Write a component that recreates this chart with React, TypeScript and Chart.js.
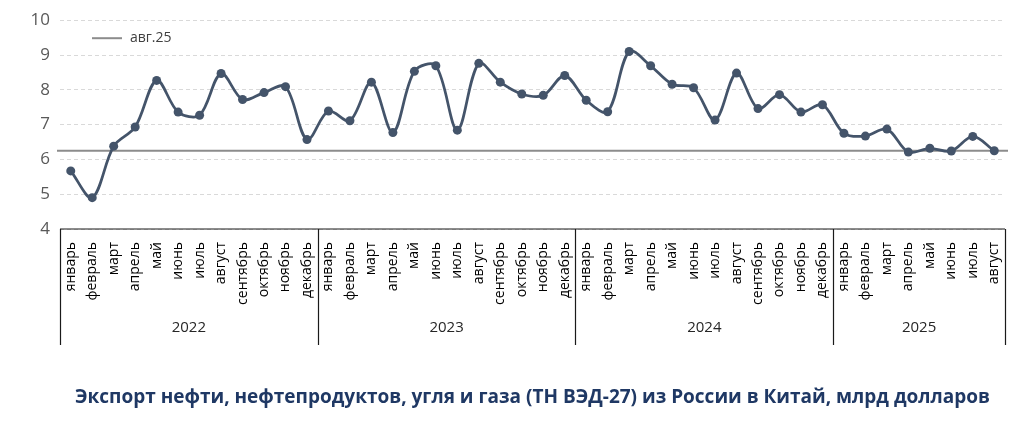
import React, { useEffect, useRef } from 'react';
import { Chart, registerables } from 'chart.js';

Chart.register(...registerables);

const monthNames = ['январь', 'февраль', 'март', 'апрель', 'май', 'июнь', 'июль', 'август', 'сентябрь', 'октябрь', 'ноябрь', 'декабрь'];
const years = ['2022', '2023', '2024', '2025'];
const monthsPerYear = [12, 12, 12, 8];

const exportValues = [
  5.67, 4.9, 6.38, 6.93, 8.27, 7.36, 7.27, 8.47, 7.72, 7.92, 8.09, 6.57,
  7.39, 7.11, 8.22, 6.77, 8.53, 8.69, 6.84, 8.76, 8.22, 7.88, 7.84, 8.41,
  7.7, 7.37, 9.1, 8.69, 8.16, 8.06, 7.13, 8.48, 7.46, 7.86, 7.36, 7.57,
  6.75, 6.67, 6.87, 6.21, 6.32, 6.24, 6.66, 6.25,
];

const referenceLevel = 6.25;
const referenceLabel = 'авг.25';
const yMin = 4;
const yMax = 10;
const yStep = 1;
const titleText = 'Экспорт нефти, нефтепродуктов, угля и газа (ТН ВЭД-27) из России в Китай, млрд долларов';

const FONT = '"Open Sans", "DejaVu Sans", sans-serif';
const LINE_COLOR = '#44546A';
const REF_COLOR = '#8C8C8C';
const AXIS_BOX_HEIGHT = 116;

const decorPlugin = {
  id: 'decor',
  beforeDatasetsDraw(chart: any) {
    const { ctx, chartArea, scales } = chart;
    const y = scales.y.getPixelForValue(referenceLevel);
    ctx.save();
    ctx.strokeStyle = REF_COLOR;
    ctx.lineWidth = 2;
    ctx.beginPath();
    ctx.moveTo(chartArea.left - 3, y);
    ctx.lineTo(chartArea.right + 3, y);
    ctx.stroke();
    // legend
    ctx.beginPath();
    ctx.moveTo(chartArea.left + 32, chartArea.top + 18);
    ctx.lineTo(chartArea.left + 62, chartArea.top + 18);
    ctx.stroke();
    ctx.fillStyle = '#404040';
    ctx.font = `14px ${FONT}`;
    ctx.textAlign = 'left';
    ctx.textBaseline = 'middle';
    ctx.fillText(referenceLabel, chartArea.left + 70, chartArea.top + 18);
    ctx.restore();
  },
  afterDraw(chart: any) {
    const { ctx, chartArea, scales } = chart;
    const xs = scales.x;
    const top = chartArea.bottom;
    const bottom = top + AXIS_BOX_HEIGHT;
    ctx.save();
    ctx.strokeStyle = '#1a1a1a';
    ctx.lineWidth = 1.2;
    ctx.beginPath();
    ctx.moveTo(chartArea.left, top);
    ctx.lineTo(chartArea.right, top);
    ctx.stroke();
    let start = 0;
    const bounds: number[] = [chartArea.left];
    years.forEach((yr, i) => {
      const end = start + monthsPerYear[i] - 1;
      const x0 = i === 0 ? chartArea.left : (xs.getPixelForValue(start - 1) + xs.getPixelForValue(start)) / 2;
      const x1 = i === years.length - 1 ? chartArea.right : (xs.getPixelForValue(end) + xs.getPixelForValue(end + 1)) / 2;
      bounds.push(x1);
      ctx.fillStyle = '#262626';
      ctx.font = `15px ${FONT}`;
      ctx.textAlign = 'center';
      ctx.textBaseline = 'middle';
      ctx.fillText(yr, (x0 + x1) / 2, top + 99);
      start = end + 1;
    });
    bounds.forEach((bx) => {
      ctx.beginPath();
      ctx.moveTo(Math.round(bx) + 0.5, top);
      ctx.lineTo(Math.round(bx) + 0.5, bottom);
      ctx.stroke();
    });
    // title
    ctx.fillStyle = '#1F3864';
    ctx.font = `bold 19px ${FONT}`;
    ctx.textAlign = 'center';
    ctx.textBaseline = 'middle';
    ctx.fillText(titleText, (chartArea.left + chartArea.right) / 2, bottom + 53);
    ctx.restore();
  },
};

export default function App() {
  const ref = useRef<HTMLCanvasElement>(null);
  useEffect(() => {
    const labels: string[] = [];
    monthsPerYear.forEach((n) => {
      for (let m = 0; m < n; m++) labels.push(monthNames[m]);
    });
    const chart = new Chart(ref.current!, {
      type: 'line',
      data: {
        labels,
        datasets: [
          {
            data: exportValues,
            borderColor: LINE_COLOR,
            backgroundColor: LINE_COLOR,
            borderWidth: 2.75,
            pointRadius: 4.5,
            pointBackgroundColor: LINE_COLOR,
            pointBorderWidth: 0,
            tension: 0.33,
          },
        ],
      },
      options: {
        responsive: false,
        animation: false,
        layout: { padding: { top: 17, right: 19, left: 0, bottom: 81 } },
        plugins: {
          legend: { display: false },
          tooltip: { enabled: false },
          title: { display: false },
        },
        scales: {
          x: {
            type: 'category',
            offset: true,
            grid: { display: false },
            border: { display: false },
            ticks: {
              autoSkip: false,
              maxRotation: 90,
              minRotation: 90,
              padding: 5,
              color: '#000000',
              font: { family: FONT, size: 14 },
            },
            afterFit: (s: any) => {
              s.height = AXIS_BOX_HEIGHT;
            },
          },
          y: {
            min: yMin,
            max: yMax,
            ticks: { stepSize: yStep, padding: 10, color: '#595959', font: { family: FONT, size: 17 } },
            grid: { color: '#D9D9D9', drawTicks: false },
            border: { display: false, dash: [4, 3] },
            afterFit: (s: any) => {
              s.width = 60;
            },
          },
        },
      },
      plugins: [decorPlugin],
    } as any);
    return () => chart.destroy();
  }, []);
  return (
    <div style={{ position: 'fixed', left: 0, top: 0, width: 1024, height: 426, background: '#fff' }}>
      <canvas ref={ref} width={1024} height={426} style={{ width: 1024, height: 426, display: 'block' }} />
    </div>
  );
}
